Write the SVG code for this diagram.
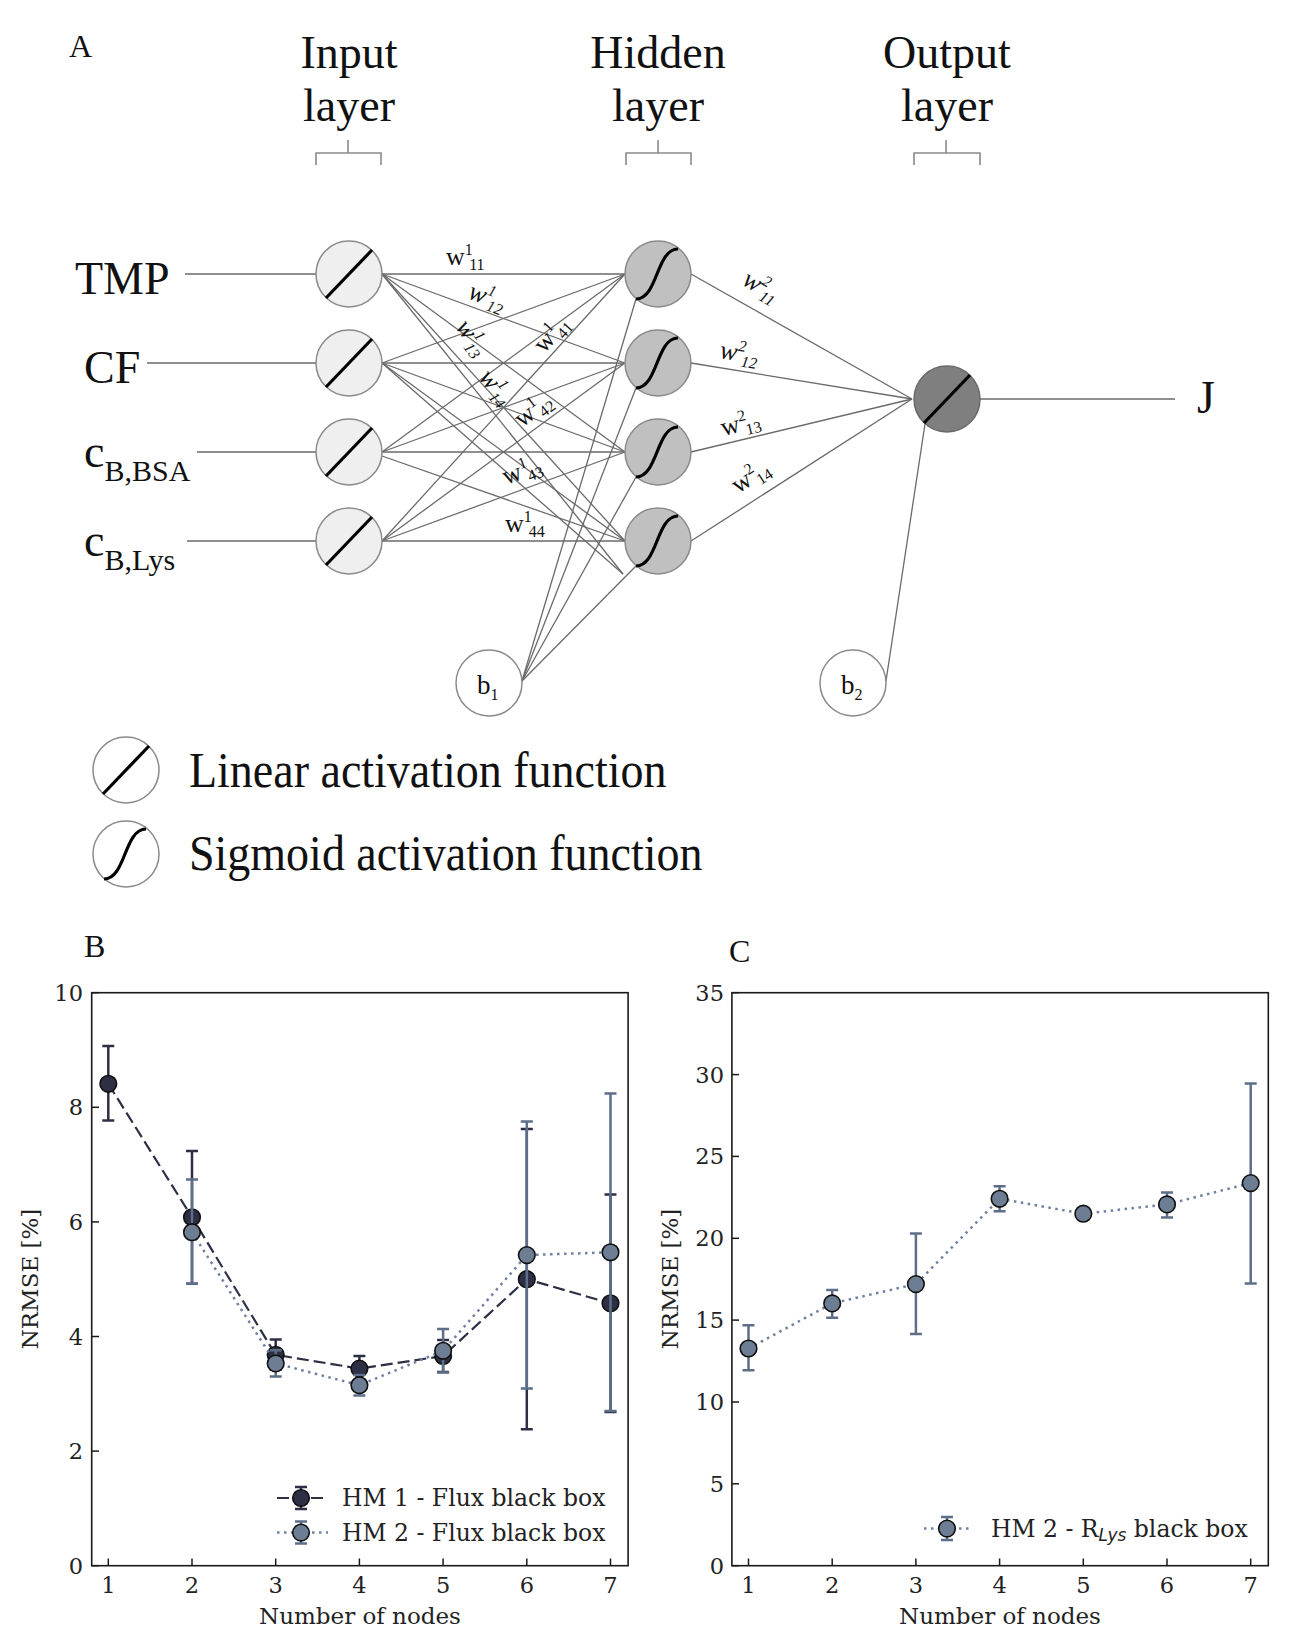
<svg xmlns="http://www.w3.org/2000/svg" width="1300" height="1647" viewBox="0 0 1300 1647">
<style>
.big{font-family:"Liberation Serif","Times New Roman",serif;font-size:46px;fill:#111}
.sub{font-size:30px}
.let{font-family:"Liberation Serif","Times New Roman",serif;font-size:32px;fill:#111}
.w{font-family:"Liberation Serif","Times New Roman",serif;font-size:26px;fill:#111}
.wi{font-style:italic}
.s{font-size:16px}
.bl{font-family:"Liberation Serif","Times New Roman",serif;font-size:27px;fill:#111}
.con line{stroke:#6a6a6a;stroke-width:1.3;fill:none}
.brace{stroke:#8a8a8a;stroke-width:1.6;fill:none}
.inN{fill:#efefef;stroke:#8a8a8a;stroke-width:1.5}
.hidN{fill:#c0c0c0;stroke:#8a8a8a;stroke-width:1.5}
.outN{fill:#7f7f7f;stroke:#6a6a6a;stroke-width:1.5}
.bN{fill:#fff;stroke:#8a8a8a;stroke-width:1.5}
.act{stroke:#000;stroke-width:3.2;fill:none}
.ax{fill:none;stroke:#1a1a1a;stroke-width:1.6}
.tk{stroke:#1a1a1a;stroke-width:1.5}
.tl{font-family:"DejaVu Serif",serif;font-size:22.5px;fill:#222}
.al{font-family:"DejaVu Serif",serif;font-size:23px;fill:#222}
.lg{font-family:"DejaVu Serif",serif;font-size:23.5px;fill:#222}
.d1{stroke:#2d2f45;stroke-width:2.2;stroke-dasharray:12 5;fill:none}
.d2{stroke:#6f80a0;stroke-width:2.5;stroke-dasharray:2.5 4.5;fill:none}
.e1{stroke:#2d2f45;stroke-width:2.5;fill:none}
.e2{stroke:#5d6e88;stroke-width:2.5;fill:none}
.m1{fill:#2d2f45;stroke:#111;stroke-width:1.6}
.m2{fill:#6d7d94;stroke:#111;stroke-width:1.6}
</style>

<!-- Panel A -->
<text class="let" x="69" y="57">A</text>
<g id="titles">
<text class="big" x="349" y="68" text-anchor="middle">Input</text>
<text class="big" x="349" y="121" text-anchor="middle">layer</text>
<text class="big" x="658" y="68" text-anchor="middle">Hidden</text>
<text class="big" x="658" y="121" text-anchor="middle">layer</text>
<text class="big" x="947" y="68" text-anchor="middle">Output</text>
<text class="big" x="947" y="121" text-anchor="middle">layer</text>
<path class="brace" d="M316,165 V153 H348 V140 M348,153 H381 V165"/>
<path class="brace" d="M626,165 V153 H658 V140 M658,153 H691 V165"/>
<path class="brace" d="M914,165 V153 H946 V140 M946,153 H980 V165"/>
</g>

<g id="connectors" class="con">
<line x1="185" y1="274" x2="316" y2="274"/>
<line x1="147" y1="363" x2="316" y2="363"/>
<line x1="197" y1="452" x2="316" y2="452"/>
<line x1="187" y1="541" x2="316" y2="541"/>
<line x1="382" y1="274" x2="625" y2="274"/>
<line x1="382" y1="274" x2="625" y2="363"/>
<line x1="382" y1="274" x2="625" y2="452"/>
<line x1="382" y1="274" x2="625" y2="541"/>
<line x1="382" y1="274" x2="623" y2="574"/>
<line x1="382" y1="363" x2="625" y2="274"/>
<line x1="382" y1="363" x2="625" y2="363"/>
<line x1="382" y1="363" x2="625" y2="452"/>
<line x1="382" y1="363" x2="625" y2="541"/>
<line x1="382" y1="363" x2="623" y2="574"/>
<line x1="382" y1="452" x2="625" y2="274"/>
<line x1="382" y1="452" x2="625" y2="363"/>
<line x1="382" y1="452" x2="625" y2="452"/>
<line x1="382" y1="456" x2="625" y2="541"/>
<line x1="382" y1="541" x2="625" y2="274"/>
<line x1="382" y1="541" x2="625" y2="363"/>
<line x1="382" y1="541" x2="625" y2="452"/>
<line x1="382" y1="541" x2="625" y2="541"/>
<line x1="522" y1="681" x2="636" y2="299"/>
<line x1="522" y1="681" x2="636" y2="388"/>
<line x1="522" y1="681" x2="636" y2="477"/>
<line x1="522" y1="681" x2="636" y2="566"/>
<line x1="691" y1="274" x2="912" y2="399"/>
<line x1="691" y1="363" x2="912" y2="399"/>
<line x1="691" y1="452" x2="912" y2="399"/>
<line x1="691" y1="541" x2="912" y2="399"/>
<line x1="886" y1="681" x2="925" y2="424"/>
<line x1="980" y1="399" x2="1175" y2="399"/>
</g>

<g id="weights">
<text class="w" transform="translate(446,265)">w<tspan class="s" dy="-10">1</tspan><tspan class="s" dx="-3" dy="15">11</tspan></text>
<text class="w wi" transform="translate(467,298) rotate(20)">w<tspan class="s" dy="-10">1</tspan><tspan class="s" dx="-3" dy="15">12</tspan></text>
<text class="w wi" transform="translate(455,327) rotate(55)">w<tspan class="s" dy="-10">1</tspan><tspan class="s" dx="-3" dy="15">13</tspan></text>
<text class="w wi" transform="translate(478,378) rotate(50)">w<tspan class="s" dy="-10">1</tspan><tspan class="s" dx="-3" dy="15">14</tspan></text>
<text class="w" transform="translate(544,354) rotate(-48)">w<tspan class="s" dy="-10">1</tspan><tspan class="s" dx="-3" dy="15">41</tspan></text>
<text class="w" transform="translate(522,428) rotate(-37)">w<tspan class="s" dy="-10">1</tspan><tspan class="s" dx="-3" dy="15">42</tspan></text>
<text class="w" transform="translate(506,485) rotate(-20)">w<tspan class="s" dy="-10">1</tspan><tspan class="s" dx="-3" dy="15">43</tspan></text>
<text class="w" transform="translate(505,532)">w<tspan class="s" dy="-10">1</tspan><tspan class="s" dx="-3" dy="15">44</tspan></text>
<text class="w wi" transform="translate(741,284) rotate(30)">w<tspan class="s" dy="-10">2</tspan><tspan class="s" dx="-3" dy="15">11</tspan></text>
<text class="w wi" transform="translate(719,358) rotate(9)">w<tspan class="s" dy="-10">2</tspan><tspan class="s" dx="-3" dy="15">12</tspan></text>
<text class="w" transform="translate(723,436) rotate(-14)">w<tspan class="s" dy="-10">2</tspan><tspan class="s" dx="-3" dy="15">13</tspan></text>
<text class="w" transform="translate(738,494) rotate(-33)">w<tspan class="s" dy="-10">2</tspan><tspan class="s" dx="-3" dy="15">14</tspan></text>
</g>

<g id="inputs-labels">
<text class="big" x="75" y="294">TMP</text>
<text class="big" x="84" y="383">CF</text>
<text class="big" x="84" y="467">c<tspan class="sub" dy="14">B,BSA</tspan></text>
<text class="big" x="84" y="556">c<tspan class="sub" dy="14">B,Lys</tspan></text>
<text class="big" x="1197" y="413">J</text>
</g>

<g id="in1"><circle class="inN" cx="349" cy="274" r="33"/><line class="act" x1="326" y1="298" x2="372" y2="250"/></g>
<g id="in2"><circle class="inN" cx="349" cy="363" r="33"/><line class="act" x1="326" y1="387" x2="372" y2="339"/></g>
<g id="in3"><circle class="inN" cx="349" cy="452" r="33"/><line class="act" x1="326" y1="476" x2="372" y2="428"/></g>
<g id="in4"><circle class="inN" cx="349" cy="541" r="33"/><line class="act" x1="326" y1="565" x2="372" y2="517"/></g>

<g id="hid1"><circle class="hidN" cx="658" cy="274" r="33"/><path class="act" d="M636,299 C658,299 656,249 678,249"/></g>
<g id="hid2"><circle class="hidN" cx="658" cy="363" r="33"/><path class="act" d="M636,388 C658,388 656,338 678,338"/></g>
<g id="hid3"><circle class="hidN" cx="658" cy="452" r="33"/><path class="act" d="M636,477 C658,477 656,427 678,427"/></g>
<g id="hid4"><circle class="hidN" cx="658" cy="541" r="33"/><path class="act" d="M636,566 C658,566 656,516 678,516"/></g>

<g id="out"><circle class="outN" cx="947" cy="399" r="33"/><line class="act" x1="924" y1="423" x2="970" y2="375"/></g>

<g id="b1"><circle class="bN" cx="489" cy="683" r="33"/><text class="bl" x="477" y="694">b<tspan class="s" font-size="17" dy="6">1</tspan></text></g>
<g id="b2"><circle class="bN" cx="853" cy="683" r="33"/><text class="bl" x="841" y="694">b<tspan class="s" font-size="17" dy="6">2</tspan></text></g>

<g id="legendA">
<circle class="bN" cx="126" cy="770" r="33"/><line class="act" x1="103" y1="794" x2="149" y2="746"/>
<text class="big" transform="translate(189,787) scale(1,1.08)">Linear activation function</text>
<circle class="bN" cx="126" cy="854" r="33"/><path class="act" d="M104,879 C126,879 124,829 146,829"/>
<text class="big" transform="translate(189,870) scale(1,1.08)">Sigmoid activation function</text>
</g>

<!-- Panel B -->
<g id="plotB">
<text class="let" x="84" y="957">B</text>
<rect class="ax" x="91.7" y="992.7" width="536.4" height="573"/>
<g class="tk">
<line x1="91.7" y1="1565.7" x2="99" y2="1565.7"/><line x1="91.7" y1="1451.1" x2="99" y2="1451.1"/><line x1="91.7" y1="1336.5" x2="99" y2="1336.5"/><line x1="91.7" y1="1221.9" x2="99" y2="1221.9"/><line x1="91.7" y1="1107.3" x2="99" y2="1107.3"/><line x1="91.7" y1="992.7" x2="99" y2="992.7"/>
<line x1="108.3" y1="1565.7" x2="108.3" y2="1558.5"/><line x1="192" y1="1565.7" x2="192" y2="1558.5"/><line x1="275.7" y1="1565.7" x2="275.7" y2="1558.5"/><line x1="359.4" y1="1565.7" x2="359.4" y2="1558.5"/><line x1="443.1" y1="1565.7" x2="443.1" y2="1558.5"/><line x1="526.8" y1="1565.7" x2="526.8" y2="1558.5"/><line x1="610.5" y1="1565.7" x2="610.5" y2="1558.5"/>
</g>
<g class="tl" text-anchor="end">
<text x="83" y="1573.7">0</text><text x="83" y="1459.1">2</text><text x="83" y="1344.5">4</text><text x="83" y="1229.9">6</text><text x="83" y="1115.3">8</text><text x="83" y="1000.7">10</text>
</g>
<g class="tl" text-anchor="middle">
<text x="108.3" y="1593">1</text><text x="192" y="1593">2</text><text x="275.7" y="1593">3</text><text x="359.4" y="1593">4</text><text x="443.1" y="1593">5</text><text x="526.8" y="1593">6</text><text x="610.5" y="1593">7</text>
</g>
<text class="al" x="360" y="1624" text-anchor="middle">Number of nodes</text>
<text class="al" transform="translate(38,1279) rotate(-90)" text-anchor="middle">NRMSE [%]</text>

<g id="hm1">
<path class="e1" d="M108.3,1120.5V1046 M102.3,1120.5h12 M102.3,1046h12
M192,1283.8V1150.9 M186,1283.8h12 M186,1150.9h12
M275.7,1369.7V1339.4 M269.7,1369.7h12 M269.7,1339.4h12
M359.4,1381.2V1356 M353.4,1381.2h12 M353.4,1356h12
M443.1,1372V1339.9 M437.1,1372h12 M437.1,1339.9h12
M526.8,1429.3V1129.1 M520.8,1429.3h12 M520.8,1129.1h12
M610.5,1412.1V1194.4 M604.5,1412.1h12 M604.5,1194.4h12"/>
<polyline class="d1" points="108.3,1083.8 192,1217.3 275.7,1354.8 359.4,1368.6 443.1,1356 526.8,1279.2 610.5,1303.3"/>
<circle class="m1" cx="108.3" cy="1083.8" r="8.3"/><circle class="m1" cx="192" cy="1217.3" r="8.3"/><circle class="m1" cx="275.7" cy="1354.8" r="8.3"/><circle class="m1" cx="359.4" cy="1368.6" r="8.3"/><circle class="m1" cx="443.1" cy="1356" r="8.3"/><circle class="m1" cx="526.8" cy="1279.2" r="8.3"/><circle class="m1" cx="610.5" cy="1303.3" r="8.3"/>
</g>
<g id="hm2">
<path class="e2" d="M192,1283.8V1179.5 M186,1283.8h12 M186,1179.5h12
M275.7,1376.6V1350.3 M269.7,1376.6h12 M269.7,1350.3h12
M359.4,1395.5V1374.9 M353.4,1395.5h12 M353.4,1374.9h12
M443.1,1372.6V1329.1 M437.1,1372.6h12 M437.1,1329.1h12
M526.8,1388.6V1121.6 M520.8,1388.6h12 M520.8,1121.6h12
M610.5,1411V1093.5 M604.5,1411h12 M604.5,1093.5h12"/>
<polyline class="d2" points="192,1232.2 275.7,1363.4 359.4,1385.2 443.1,1350.8 526.8,1255.1 610.5,1252.3"/>
<circle class="m2" cx="192" cy="1232.2" r="8.3"/><circle class="m2" cx="275.7" cy="1363.4" r="8.3"/><circle class="m2" cx="359.4" cy="1385.2" r="8.3"/><circle class="m2" cx="443.1" cy="1350.8" r="8.3"/><circle class="m2" cx="526.8" cy="1255.1" r="8.3"/><circle class="m2" cx="610.5" cy="1252.3" r="8.3"/>
</g>
<g id="legendB">
<line class="d1" x1="277" y1="1498" x2="328" y2="1498"/>
<path class="e1" d="M301,1487V1509 M295,1487h12 M295,1509h12"/>
<circle class="m1" cx="301" cy="1498" r="8.3"/>
<text class="lg" x="342" y="1506">HM 1 - Flux black box</text>
<line class="d2" x1="277" y1="1532.6" x2="328" y2="1532.6"/>
<path class="e2" d="M301,1521.6V1543.6 M295,1521.6h12 M295,1543.6h12"/>
<circle class="m2" cx="301" cy="1532.6" r="8.3"/>
<text class="lg" x="342" y="1540.5">HM 2 - Flux black box</text>
</g>
</g>

<!-- Panel C -->
<g id="plotC">
<text class="let" x="729" y="962">C</text>
<rect class="ax" x="731.9" y="992.7" width="536.4" height="573"/>
<g class="tk">
<line x1="731.9" y1="1565.7" x2="739" y2="1565.7"/><line x1="731.9" y1="1483.8" x2="739" y2="1483.8"/><line x1="731.9" y1="1402" x2="739" y2="1402"/><line x1="731.9" y1="1320.1" x2="739" y2="1320.1"/><line x1="731.9" y1="1238.3" x2="739" y2="1238.3"/><line x1="731.9" y1="1156.4" x2="739" y2="1156.4"/><line x1="731.9" y1="1074.6" x2="739" y2="1074.6"/><line x1="731.9" y1="992.7" x2="739" y2="992.7"/>
<line x1="748.5" y1="1565.7" x2="748.5" y2="1558.5"/><line x1="832.2" y1="1565.7" x2="832.2" y2="1558.5"/><line x1="915.9" y1="1565.7" x2="915.9" y2="1558.5"/><line x1="999.6" y1="1565.7" x2="999.6" y2="1558.5"/><line x1="1083.3" y1="1565.7" x2="1083.3" y2="1558.5"/><line x1="1167" y1="1565.7" x2="1167" y2="1558.5"/><line x1="1250.7" y1="1565.7" x2="1250.7" y2="1558.5"/>
</g>
<g class="tl" text-anchor="end">
<text x="724" y="1573.7">0</text><text x="724" y="1491.8">5</text><text x="724" y="1410">10</text><text x="724" y="1328.1">15</text><text x="724" y="1246.3">20</text><text x="724" y="1164.4">25</text><text x="724" y="1082.6">30</text><text x="724" y="1000.7">35</text>
</g>
<g class="tl" text-anchor="middle">
<text x="748.5" y="1593">1</text><text x="832.2" y="1593">2</text><text x="915.9" y="1593">3</text><text x="999.6" y="1593">4</text><text x="1083.3" y="1593">5</text><text x="1167" y="1593">6</text><text x="1250.7" y="1593">7</text>
</g>
<text class="al" x="1000" y="1624" text-anchor="middle">Number of nodes</text>
<text class="al" transform="translate(678,1279) rotate(-90)" text-anchor="middle">NRMSE [%]</text>
<g id="hm2c">
<path class="e2" d="M748.5,1370.2V1325.2 M742.5,1370.2h12 M742.5,1325.2h12
M832.2,1317.8V1290 M826.2,1317.8h12 M826.2,1290h12
M915.9,1334V1233.4 M909.9,1334h12 M909.9,1233.4h12
M999.6,1211.3V1186.2 M993.6,1211.3h12 M993.6,1186.2h12
M1167,1217.5V1192.4 M1161,1217.5h12 M1161,1192.4h12
M1250.7,1283.6V1083.4 M1244.7,1283.6h12 M1244.7,1083.4h12"/>
<polyline class="d2" points="748.5,1348.5 832.2,1303.4 915.9,1284.1 999.6,1198.8 1083.3,1213.7 1167,1204.4 1250.7,1183.1"/>
<circle class="m2" cx="748.5" cy="1348.5" r="8.3"/><circle class="m2" cx="832.2" cy="1303.4" r="8.3"/><circle class="m2" cx="915.9" cy="1284.1" r="8.3"/><circle class="m2" cx="999.6" cy="1198.8" r="8.3"/><circle class="m2" cx="1083.3" cy="1213.7" r="8.3"/><circle class="m2" cx="1167" cy="1204.4" r="8.3"/><circle class="m2" cx="1250.7" cy="1183.1" r="8.3"/>
</g>
<g id="legendC">
<line class="d2" x1="924" y1="1528.6" x2="970" y2="1528.6"/>
<path class="e2" d="M947,1517V1540 M941,1517h12 M941,1540h12"/>
<circle class="m2" cx="947" cy="1528.6" r="8.3"/>
<text class="lg" x="991" y="1537">HM 2 - R<tspan font-family="DejaVu Sans" font-style="italic" font-size="17" dy="4">Lys</tspan><tspan dy="-4"> black box</tspan></text>
</g>
</g>
</svg>
